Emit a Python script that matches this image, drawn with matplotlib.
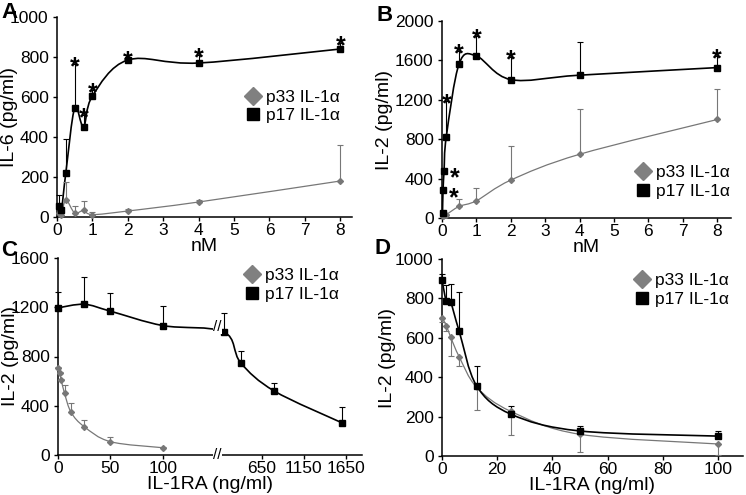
import numpy as np
import matplotlib.pyplot as plt
from matplotlib.path import Path
from matplotlib.patches import PathPatch
from matplotlib.lines import Line2D

plt.rcParams['font.family'] = ['Liberation Sans', 'DejaVu Sans']

GREY = '#777777'

# Panel A: IL-6 vs nM
a_x = [0.06, 0.125, 0.25, 0.5, 0.75, 1, 2, 4, 8]
a_p17 = [55, 35, 222, 545, 450, 605, 785, 770, 840]
a_p17_err = [53, 10, 168, 220, 60, 30, 12, 40, 30]
a_p33 = [20, 8, 85, 20, 33, 12, 30, 75, 180]
a_p33_err = [30, 10, 90, 35, 47, 13, 10, 10, 180]
a_star_x = [0.5, 0.75, 1, 2, 4, 8]

# Panel B: IL-2 vs nM
b_x = [0.015, 0.03, 0.06, 0.125, 0.5, 1, 2, 4, 8]
b_p17 = [50, 280, 480, 826, 1568, 1645, 1405, 1450, 1527]
b_p17_err = [20, 20, 20, 364, 129, 204, 227, 334, 118]
b_p33 = [20, 25, 30, 35, 118, 175, 385, 647, 1000]
b_p33_err = [5, 5, 5, 5, 78, 128, 350, 459, 305]
b_star_top = [0.125, 0.5, 1, 2, 8]
b_star_side = [0.03, 0.06]

# Panel C: IL-2 vs IL-1RA, broken x axis
c_x33 = [0, 1.5625, 3.125, 6.25, 12.5, 25, 50, 100]
c_p33 = [703, 662, 608, 500, 346, 230, 108, 59]
c_p33_err = [15, 10, 10, 68, 73, 55, 35, 5]
c_x17 = [0, 25, 50, 100, 200, 400, 800, 1600]
c_p17 = [1195, 1224, 1168, 1051, 1000, 749, 519, 262]
c_p17_err = [130, 222, 151, 160, 154, 94, 62, 124]
c_ticks = [0, 50, 100, 650, 1150, 1650]

# Panel D: IL-2 vs IL-1RA
d_x = [0, 1.5625, 3.125, 6.25, 12.5, 25, 50, 100]
d_p17 = [893, 787, 780, 632, 357, 212, 127, 101]
d_p17_err = [30, 80, 95, 200, 98, 44, 25, 24]
d_p33 = [702, 662, 604, 503, 350, 226, 110, 61]
d_p33_err = [20, 25, 95, 48, 114, 119, 88, 58]


def brk_fwd(v):
    v = np.asarray(v, float)
    return np.where(v <= 100, v, np.where(v <= 200, 100 + (v - 100) * 0.58, 158 + (v - 200) * 0.0803))


def brk_inv(u):
    u = np.asarray(u, float)
    return np.where(u <= 100, u, np.where(u <= 158, 100 + (u - 100) / 0.58, 200 + (u - 158) / 0.0803))


def smooth_line(ax, x, y, color, lw, fwd=lambda v: np.asarray(v, float), inv=lambda u: u):
    # Excel-like smoothed line: cubic Bezier through the data points
    pts = np.column_stack([fwd(x), np.asarray(y, float)])
    ext = np.vstack([pts[0], pts, pts[-1]])
    verts = [pts[0]]
    codes = [Path.MOVETO]
    for i in range(len(pts) - 1):
        p0, p1, p2, p3 = ext[i], ext[i + 1], ext[i + 2], ext[i + 3]
        verts += [p1 + (p2 - p0) / 6, p2 - (p3 - p1) / 6, p2]
        codes += [Path.CURVE4] * 3
    verts = np.array(verts)
    verts[:, 0] = inv(verts[:, 0])
    ax.add_patch(PathPatch(Path(verts, codes), fill=False, ec=color, lw=lw, clip_on=False, zorder=2))


def series(ax, x, y, err, color, marker, ms, lw, down=False, **kw):
    smooth_line(ax, x, y, color, lw, **kw)
    z = np.zeros(len(err))
    yerr = [err, z] if down else [z, err]
    ax.errorbar(x, y, yerr=yerr, fmt='none', ecolor=color, elinewidth=0.8,
                capsize=2.5, capthick=0.8, clip_on=False, zorder=3)
    ax.plot(x, y, ls='none', marker=marker, ms=ms, color=color, clip_on=False, zorder=4)


def star(ax, x, y, dx=0, dy=-7.5):
    ax.annotate('*', (x, y), xytext=(dx, dy), textcoords='offset points', ha='center',
                va='baseline', fontsize=18, fontweight='bold', annotation_clip=False)


def px_axes(fig, left, right, top, bottom):
    return fig.add_axes([left / 746, 1 - bottom / 495, (right - left) / 746, (bottom - top) / 495])


def style(ax, ylabel, xlabel, lab_x):
    for s in ['top', 'right']:
        ax.spines[s].set_visible(False)
    for s in ['left', 'bottom']:
        ax.spines[s].set_linewidth(1.1)
    ax.tick_params(axis='both', direction='out', length=3, width=1.0, labelsize=12.5)
    ax.tick_params(axis='x', pad=1)
    ax.tick_params(axis='y', pad=3)
    ax.set_ylabel(ylabel, fontsize=14, va='center')
    ax.yaxis.set_label_coords(lab_x, 0.5)
    ax.set_xlabel(xlabel, fontsize=14, labelpad=0)


def legend(ax, x, y):
    handles = [Line2D([], [], ls='none', marker='D', ms=9, color='#808080', label='p33 IL-1α'),
               Line2D([], [], ls='none', marker='s', ms=9, color='black', label='p17 IL-1α')]
    ax.legend(handles=handles, loc='center left', bbox_to_anchor=(x, y), frameon=False,
              fontsize=12.5, handlelength=1.0, handletextpad=0.25, labelspacing=0.2,
              borderpad=0, borderaxespad=0)


fig = plt.figure(figsize=(7.46, 4.95), dpi=100)

# A
ax = px_axes(fig, 57, 352, 17, 217)
series(ax, a_x, a_p33, a_p33_err, GREY, 'D', 3, 0.9)
series(ax, a_x, a_p17, a_p17_err, 'black', 's', 5, 1.2)
for xs in a_star_x:
    i = a_x.index(xs)
    star(ax, xs, a_p17[i] + a_p17_err[i])
ax.set_xlim(0, 8.33)
ax.set_ylim(0, 1000)
ax.set_xticks(range(0, 9))
ax.set_yticks(range(0, 1001, 200))
style(ax, 'IL-6 (pg/ml)', 'nM', -0.16)
legend(ax, 0.636, 0.5525)

# B
ax = px_axes(fig, 442, 731, 21, 218)
series(ax, b_x, b_p33, b_p33_err, GREY, 'D', 3, 0.9)
series(ax, b_x, b_p17, b_p17_err, 'black', 's', 5, 1.2)
for xs in b_star_top:
    i = b_x.index(xs)
    star(ax, xs, b_p17[i] + b_p17_err[i])
for xs in b_star_side:
    i = b_x.index(xs)
    star(ax, xs, b_p17[i], dx=8, dy=-10.5)
ax.set_xlim(0, 8.4)
ax.set_ylim(0, 2000)
ax.set_xticks(range(0, 9))
ax.set_yticks(range(0, 2001, 400))
style(ax, 'IL-2 (pg/ml)', 'nM', -0.2)
legend(ax, 0.667, 0.183)

# C
ax = px_axes(fig, 58, 362, 258, 455)
ax.set_xscale('function', functions=(brk_fwd, brk_inv))
series(ax, c_x33, c_p33, c_p33_err, GREY, 'D', 3, 0.9, fwd=brk_fwd, inv=brk_inv)
series(ax, c_x17, c_p17, c_p17_err, 'black', 's', 5, 1.2, fwd=brk_fwd, inv=brk_inv)
ax.set_xlim(0, 1840)
ax.set_ylim(0, 1600)
ax.set_xticks(c_ticks)
ax.set_xticklabels([str(t) for t in c_ticks])
ax.set_yticks(range(0, 1601, 400))
style(ax, 'IL-2 (pg/ml)', 'IL-1RA (ng/ml)', -0.155)
for yb in [0, 1040]:
    ax.annotate('//', (190, yb), ha='center', va='center', fontsize=11, annotation_clip=False,
                bbox=dict(fc='white', ec='none', pad=0.3), zorder=6)
legend(ax, 0.61, 0.864)

# D
ax = px_axes(fig, 442, 743, 259, 456)
series(ax, d_x, d_p33, d_p33_err, GREY, 'D', 3, 0.9, down=True)
series(ax, d_x, d_p17, d_p17_err, 'black', 's', 5, 1.2)
ax.set_xlim(0, 109)
ax.set_ylim(0, 1000)
ax.set_xticks(range(0, 101, 20))
ax.set_yticks(range(0, 1001, 200))
style(ax, 'IL-2 (pg/ml)', 'IL-1RA (ng/ml)', -0.18)
legend(ax, 0.635, 0.843)

# panel letters
for lab, xp, yp in [('A', 1, 2), ('B', 377, 5), ('C', 1, 240), ('D', 374, 238)]:
    fig.text(xp / 746, 1 - yp / 495, lab, fontsize=16, fontweight='bold', va='top', ha='left')

fig.savefig('out.png', dpi=100)
